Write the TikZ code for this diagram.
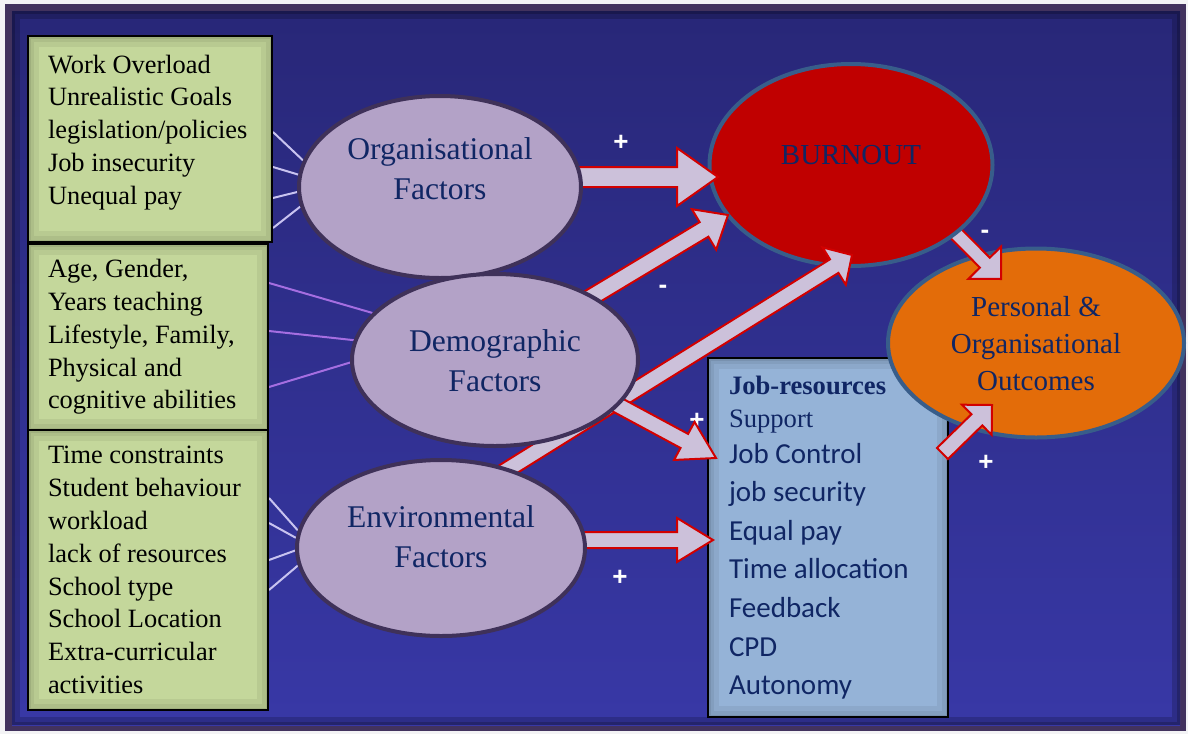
\documentclass[tikz,border=0pt]{standalone}
\usepackage{fontspec}
\setmainfont{Liberation Serif}
\newfontfamily\calibrifont{Carlito}
\newfontfamily\signfont{Liberation Sans}
\usetikzlibrary{shapes, calc}

\definecolor{pagegrey}{RGB}{243,243,245}
\definecolor{framepurple}{RGB}{66,50,94}
\definecolor{slidetop}{RGB}{40,39,120}
\definecolor{slidebottom}{RGB}{56,56,166}
\definecolor{boxgreen}{RGB}{196,215,155}
\definecolor{boxblue}{RGB}{149,179,215}
\definecolor{factorfill}{RGB}{179,162,199}
\definecolor{factorrim}{RGB}{148,130,170}
\definecolor{factoredge}{RGB}{63,49,89}
\definecolor{burnred}{RGB}{192,0,0}
\definecolor{burnrim}{RGB}{150,0,0}
\definecolor{outorange}{RGB}{227,108,9}
\definecolor{outrim}{RGB}{190,85,5}
\definecolor{outlineblue}{RGB}{56,93,138}
\definecolor{navytext}{RGB}{16,38,100}
\definecolor{arrowfill}{RGB}{204,193,218}
\definecolor{arrowred}{RGB}{210,0,0}
\definecolor{spokewhite}{RGB}{200,195,240}
\definecolor{spokepurple}{RGB}{165,110,225}

% ellipses get a slightly darker rim
\pgfdeclareradialshading{factorshade}{\pgfpointorigin}{color(0bp)=(factorfill); color(42bp)=(factorfill); color(50bp)=(factorrim)}
\pgfdeclareradialshading{burnshade}{\pgfpointorigin}{color(0bp)=(burnred); color(42bp)=(burnred); color(50bp)=(burnrim)}
\pgfdeclareradialshading{outshade}{\pgfpointorigin}{color(0bp)=(outorange); color(42bp)=(outorange); color(50bp)=(outrim)}

\pgfdeclarelayer{slide}
\pgfdeclarelayer{far}
\pgfdeclarelayer{targets}
\pgfdeclarelayer{links}
\pgfsetlayers{slide,far,targets,links,main}

% block arrow: #1 start, #2 tip, #3 half shaft, #4 half head, #5 head length
\newcommand{\fatarrow}[5]{%
  \coordinate (fa-s) at #1;
  \coordinate (fa-t) at #2;
  \coordinate (fa-b) at ($(fa-t)!#5!(fa-s)$);
  \draw[block arrow] ($(fa-s)!#3!90:(fa-t)$) -- ($(fa-b)!#3!-90:(fa-s)$)
    -- ($(fa-b)!#4!-90:(fa-s)$) -- (fa-t) -- ($(fa-b)!#4!90:(fa-s)$)
    -- ($(fa-b)!#3!90:(fa-s)$) -- ($(fa-s)!#3!-90:(fa-t)$) -- cycle;
}

\tikzset{
  listbox/.style={rectangle, draw=black, line width=1pt, fill=boxgreen,
    align=flush left, inner xsep=10pt, text width=#1,
    font=\fontsize{13.2}{16.4}\selectfont,
    path picture={
      \draw[black, opacity=.06, line width=11pt] (path picture bounding box.south west) rectangle (path picture bounding box.north east);
      \draw[black, opacity=.06, line width=6pt] (path picture bounding box.south west) rectangle (path picture bounding box.north east);
      \draw[black, opacity=.08, line width=2.5pt] (path picture bounding box.south west) rectangle (path picture bounding box.north east);}},
  bubble/.style={ellipse, line width=2pt, shade},
  factor/.style={bubble, draw=factoredge, shading=factorshade},
  bubbletext/.style={text=navytext, align=center, inner sep=0pt,
    font=\fontsize{15.8}{20}\selectfont},
  block arrow/.style={fill=arrowfill, draw=arrowred, line width=1pt, line join=miter},
  spoke/.style={draw=spokewhite, line width=1pt},
  sign/.style={text=white, inner sep=0pt,
    font=\signfont\bfseries\fontsize{13}{13}\selectfont},
}

\begin{document}
\begin{tikzpicture}[x=0.5pt, y=-0.5pt]
\useasboundingbox (0,0) rectangle (1188,734);

% slide frame
\begin{pgfonlayer}{slide}
  \fill[pagegrey] (0,0) rectangle (1188,734);
  \fill[framepurple] (5,4) rectangle (1186,731);
  \shade[top color=slidetop, bottom color=slidebottom] (12,11) rectangle (1180,725);
  \draw[black, opacity=.18, line width=4pt] (16,15) rectangle (1176,721);
  \draw[black, opacity=.2, line width=1.5pt] (13.5,12.5) rectangle (1178.5,723.5);
\end{pgfonlayer}

% burnout
\begin{pgfonlayer}{targets}
  \node[bubble, draw=outlineblue, shading=burnshade, minimum width=141.5pt, minimum height=101pt] (burnout) at (851,165) {};
  \node[bubbletext, font=\fontsize{14.5}{18.5}\selectfont] (burnouttext) at (851,155) {BURNOUT};
\end{pgfonlayer}

% resources and outcomes
\begin{pgfonlayer}{far}
  \node[listbox=99pt, fill=boxblue, inner xsep=10.5pt, minimum height=179.5pt, text=navytext,
    font=\fontsize{13.3}{19.3}\selectfont] (resources) at (828,537.5)
    {{\bfseries Job-resources}\\[-2.8pt]
     Support\\[-1.3pt]
     \calibrifont\fontsize{14.5}{19.3}\selectfont
     Job Control\\
     job security\\
     Equal pay\\
     Time allocation\\
     Feedback\\
     CPD\\
     Autonomy};
  \node[bubble, draw=outlineblue, shading=outshade, minimum width=148pt, minimum height=94.5pt] (outcomes) at (1036,343) {};
  \node[bubbletext, font=\fontsize{14.5}{18.5}\selectfont] (outcomestext) at (1036,344) {Personal \&\\Organisational\\Outcomes};
  \fatarrow{([shift={(50,13)}]burnout.center)}{([shift={(-35,-64)}]outcomes.center)}{3.5pt}{11.5pt}{11.5pt}
\end{pgfonlayer}

\begin{pgfonlayer}{targets}
  \fatarrow{([shift={(114.5,-84)}]resources.center)}{([shift={(-44,62)}]outcomes.center)}{3.9pt}{10.6pt}{10.6pt}

  \node[sign] (plusorg) at (621,143) {+};
  \node[sign] (minusdemo) at (663,289) {-};
  \node[sign] (plusdemo) at (697,421) {+};
  \node[sign] (plusenv) at (620,578) {+};
  \node[sign] (minusburn) at (985,234) {-};
  \node[sign] (plusres) at (986,463) {+};
\end{pgfonlayer}

% factor lists
\node[listbox=102pt, minimum height=103pt] (orgbox) at (150,139)
  {Work Overload\\Unrealistic Goals\\legislation/policies\\Job insecurity\\Unequal pay\\[-7pt]\mbox{}};
\node[listbox=100pt, minimum height=93pt] (demobox) at (148,337)
  {Age, Gender,\\Years teaching\\Lifestyle, Family,\\Physical and\\cognitive abilities};
\node[listbox=100pt, minimum height=140pt] (envbox) at (148,570)
  {Time constraints\\Student behaviour\\workload\\lack of resources\\School type\\School Location\\Extra-curricular\\activities};

% factors
\node[factor, minimum width=141pt, minimum height=91pt] (org) at (440,187) {};
\node[factor, minimum width=143pt, minimum height=86pt] (demo) at (495,360) {};
\node[factor, minimum width=144pt, minimum height=88pt] (env) at (441,548) {};
\node[bubbletext] (orgtext) at (440,169) {Organisational\\Factors};
\node[bubbletext] (demotext) at (495,361) {Demographic\\Factors};
\node[bubbletext] (envtext) at (441,537) {Environmental\\Factors};

\begin{pgfonlayer}{links}
  \foreach \dy/\ang in {3.5/169, -14/175, -29.5/182, -44.5/188}
    \draw[spoke] ([yshift=\dy pt]orgbox.east) -- (org.\ang);
  \foreach \dy/\ang in {27/159, 3/172, -25/181}
    \draw[spoke, spokepurple] ([yshift=\dy pt]demobox.east) -- (demo.\ang);
  \foreach \dy/\ang in {36/173, 23.5/176, 5/181, -10/187}
    \draw[spoke] ([yshift=\dy pt]envbox.east) -- (env.\ang);

  \fatarrow{([shift={(0,-10)}]org.center)}{([shift={(-133,12)}]burnout.center)}{5pt}{14.5pt}{20.5pt}
  \fatarrow{([shift={(0,-5)}]demo.center)}{([shift={(-123,50)}]burnout.center)}{4.25pt}{11.8pt}{14pt}
  \fatarrow{([shift={(0,-37)}]env.center)}{([shift={(1,90)}]burnout.center)}{4pt}{11pt}{10.5pt}
  \fatarrow{([shift={(0,-21)}]demo.center)}{([shift={(-112,-79.5)}]resources.center)}{4pt}{10.8pt}{18pt}
  \fatarrow{([shift={(0,-8)}]env.center)}{([shift={(-115,2.5)}]resources.center)}{4pt}{11pt}{18pt}
\end{pgfonlayer}
\end{tikzpicture}
\end{document}
